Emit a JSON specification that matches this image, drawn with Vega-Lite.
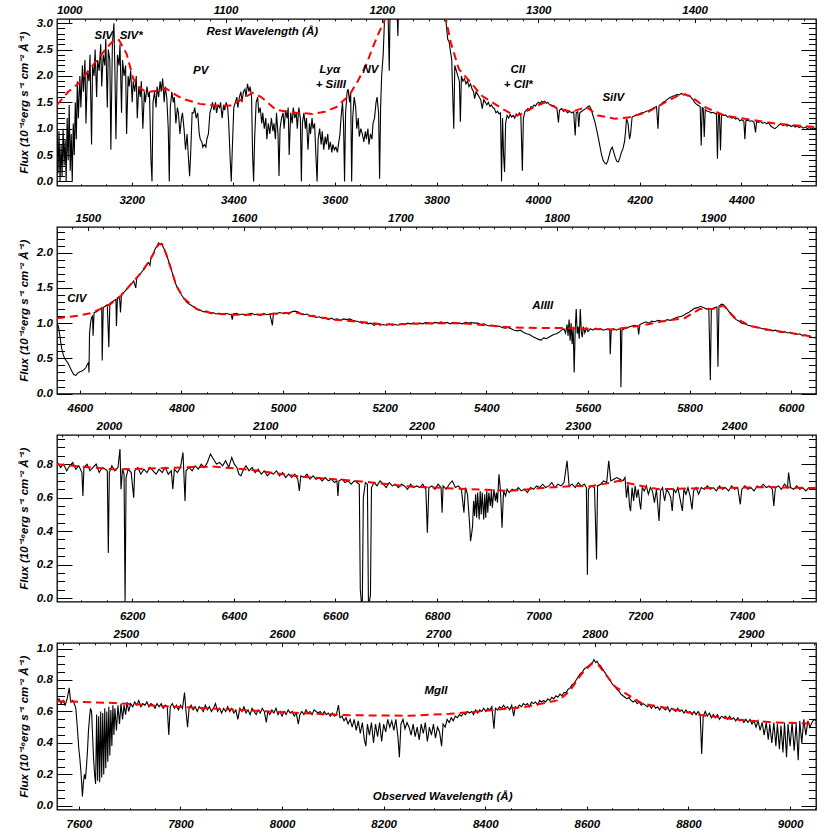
{
"$schema": "https://vega.github.io/schema/vega-lite/v6.json",
"background": "white",
"padding": {"left": 17, "top": 3, "right": 0, "bottom": 0},
"spacing": 41,
"bounds": "flush",
"config": {
 "font": "Liberation Sans",
 "view": {"stroke": "black", "strokeWidth": 1.3},
 "axis": {"domain": false, "grid": false, "labelFont": "Liberation Sans", "labelFontSize": 11.5, "labelFontWeight": "bold", "labelFontStyle": "italic", "labelColor": "black", "tickColor": "black", "tickWidth": 1, "labelFlush": false, "labelOverlap": false, "labelBound": false, "titleFont": "Liberation Sans", "titleFontSize": 11.5, "titleFontWeight": "bold", "titleFontStyle": "italic", "titleColor": "black"}
},
"datasets": {
"s1": [{"w":3053,"f":1.0},{"w":3055,"f":0.15},{"w":3057,"f":0.95},{"w":3059,"f":0.0},{"w":3061,"f":0.7},{"w":3063,"f":0.1},{"w":3065,"f":1.0},{"w":3067,"f":0.3},{"w":3069,"f":0.8},{"w":3071,"f":0.0},{"w":3073,"f":1.2},{"w":3075,"f":0.4},{"w":3077,"f":1.45},{"w":3079,"f":0.2},{"w":3081,"f":0.9},{"w":3083,"f":0.0},{"w":3085,"f":1.1},{"w":3087,"f":0.5},{"w":3089,"f":1.5},{"w":3091,"f":0.8},{"w":3093,"f":1.9},{"w":3095,"f":1.2},{"w":3098,"f":2.0},{"w":3100,"f":1.4},{"w":3103,"f":2.2},{"w":3105,"f":1.7},{"w":3108,"f":2.3},{"w":3110,"f":1.1},{"w":3113,"f":2.1},{"w":3116,"f":1.9},{"w":3118,"f":2.4},{"w":3121,"f":0.7},{"w":3123,"f":2.2},{"w":3126,"f":2.0},{"w":3128,"f":2.5},{"w":3131,"f":1.6},{"w":3133,"f":2.3},{"w":3136,"f":2.1},{"w":3139,"f":2.6},{"w":3141,"f":1.8},{"w":3144,"f":2.4},{"w":3147,"f":2.2},{"w":3149,"f":2.7},{"w":3152,"f":1.4},{"w":3154,"f":2.5},{"w":3157,"f":2.3},{"w":3159,"f":0.6},{"w":3162,"f":2.6},{"w":3165,"f":3.0},{"w":3167,"f":2.1},{"w":3169,"f":0.8},{"w":3172,"f":2.4},{"w":3175,"f":2.2},{"w":3177,"f":2.6},{"w":3180,"f":1.3},{"w":3182,"f":2.3},{"w":3185,"f":2.0},{"w":3188,"f":2.2},{"w":3190,"f":0.9},{"w":3193,"f":2.0},{"w":3195,"f":1.8},{"w":3198,"f":2.1},{"w":3201,"f":1.5},{"w":3203,"f":1.9},{"w":3206,"f":1.7},{"w":3209,"f":2.0},{"w":3211,"f":1.2},{"w":3214,"f":1.8},{"w":3217,"f":1.6},{"w":3219,"f":1.9},{"w":3222,"f":1.0},{"w":3225,"f":1.7},{"w":3227,"f":1.5},{"w":3230,"f":1.8},{"w":3233,"f":1.6},{"w":3235,"f":1.7},{"w":3238,"f":0.4},{"w":3240,"f":0.0},{"w":3242,"f":1.5},{"w":3245,"f":1.7},{"w":3248,"f":1.4},{"w":3250,"f":1.8},{"w":3253,"f":1.6},{"w":3256,"f":1.9},{"w":3258,"f":1.7},{"w":3261,"f":1.95},{"w":3264,"f":1.5},{"w":3266,"f":1.8},{"w":3269,"f":1.6},{"w":3272,"f":1.0},{"w":3274,"f":0.0},{"w":3276,"f":1.4},{"w":3279,"f":1.7},{"w":3282,"f":1.5},{"w":3284,"f":1.6},{"w":3287,"f":1.1},{"w":3290,"f":1.4},{"w":3292,"f":1.3},{"w":3295,"f":0.9},{"w":3298,"f":1.2},{"w":3300,"f":1.3},{"w":3303,"f":1.0},{"w":3306,"f":0.6},{"w":3309,"f":0.9},{"w":3312,"f":0.4},{"w":3314,"f":0.1},{"w":3316,"f":0.5},{"w":3319,"f":1.3},{"w":3322,"f":1.3},{"w":3324,"f":1.4},{"w":3327,"f":1.2},{"w":3330,"f":1.3},{"w":3333,"f":0.9},{"w":3335,"f":0.8},{"w":3338,"f":0.75},{"w":3340,"f":0.65},{"w":3343,"f":0.7},{"w":3346,"f":0.65},{"w":3348,"f":0.8},{"w":3351,"f":0.9},{"w":3354,"f":1.3},{"w":3357,"f":1.4},{"w":3359,"f":1.5},{"w":3362,"f":1.35},{"w":3365,"f":1.5},{"w":3367,"f":1.3},{"w":3370,"f":1.45},{"w":3373,"f":1.4},{"w":3375,"f":1.5},{"w":3378,"f":1.2},{"w":3381,"f":1.45},{"w":3383,"f":1.35},{"w":3386,"f":1.5},{"w":3389,"f":1.4},{"w":3391,"f":1.1},{"w":3394,"f":0.4},{"w":3396,"f":0.0},{"w":3398,"f":0.6},{"w":3401,"f":1.4},{"w":3404,"f":1.5},{"w":3407,"f":1.6},{"w":3409,"f":1.4},{"w":3412,"f":1.6},{"w":3415,"f":1.7},{"w":3417,"f":1.5},{"w":3420,"f":1.7},{"w":3423,"f":1.75},{"w":3425,"f":1.6},{"w":3428,"f":1.85},{"w":3431,"f":1.7},{"w":3433,"f":1.8},{"w":3436,"f":1.6},{"w":3438,"f":0.5},{"w":3440,"f":0.0},{"w":3442,"f":0.8},{"w":3445,"f":1.5},{"w":3448,"f":1.6},{"w":3450,"f":1.3},{"w":3453,"f":1.4},{"w":3456,"f":1.1},{"w":3458,"f":1.3},{"w":3461,"f":1.0},{"w":3464,"f":1.2},{"w":3466,"f":0.8},{"w":3469,"f":1.1},{"w":3472,"f":0.9},{"w":3475,"f":1.2},{"w":3478,"f":0.95},{"w":3480,"f":1.1},{"w":3483,"f":0.8},{"w":3485,"f":1.3},{"w":3488,"f":0.9},{"w":3490,"f":0.1},{"w":3492,"f":1.0},{"w":3495,"f":1.2},{"w":3498,"f":1.3},{"w":3500,"f":1.0},{"w":3503,"f":1.35},{"w":3506,"f":1.2},{"w":3508,"f":1.4},{"w":3510,"f":0.5},{"w":3513,"f":1.3},{"w":3516,"f":1.1},{"w":3518,"f":1.4},{"w":3521,"f":1.2},{"w":3524,"f":1.3},{"w":3526,"f":1.0},{"w":3529,"f":1.4},{"w":3532,"f":1.2},{"w":3534,"f":0.0},{"w":3536,"f":1.1},{"w":3539,"f":1.3},{"w":3542,"f":1.0},{"w":3544,"f":1.2},{"w":3547,"f":0.6},{"w":3550,"f":1.1},{"w":3552,"f":0.9},{"w":3555,"f":1.2},{"w":3557,"f":1.0},{"w":3560,"f":1.1},{"w":3563,"f":0.4},{"w":3565,"f":0.0},{"w":3567,"f":0.8},{"w":3570,"f":1.0},{"w":3573,"f":0.7},{"w":3575,"f":0.95},{"w":3578,"f":0.6},{"w":3581,"f":0.85},{"w":3583,"f":0.7},{"w":3586,"f":0.9},{"w":3588,"f":0.6},{"w":3591,"f":0.75},{"w":3594,"f":0.55},{"w":3596,"f":0.7},{"w":3599,"f":0.6},{"w":3602,"f":0.65},{"w":3605,"f":0.55},{"w":3607,"f":0.7},{"w":3610,"f":0.9},{"w":3612,"f":1.2},{"w":3615,"f":1.5},{"w":3617,"f":1.1},{"w":3619,"f":0.0},{"w":3621,"f":1.3},{"w":3624,"f":1.7},{"w":3626,"f":1.75},{"w":3629,"f":1.5},{"w":3631,"f":1.7},{"w":3633,"f":0.0},{"w":3635,"f":1.2},{"w":3638,"f":1.6},{"w":3641,"f":1.4},{"w":3643,"f":1.0},{"w":3646,"f":1.2},{"w":3648,"f":0.85},{"w":3651,"f":1.0},{"w":3654,"f":0.9},{"w":3657,"f":0.75},{"w":3660,"f":0.95},{"w":3662,"f":0.8},{"w":3665,"f":1.0},{"w":3667,"f":0.7},{"w":3670,"f":0.9},{"w":3673,"f":0.8},{"w":3675,"f":1.1},{"w":3678,"f":1.2},{"w":3681,"f":1.5},{"w":3683,"f":1.6},{"w":3686,"f":1.3},{"w":3688,"f":0.05},{"w":3690,"f":1.4},{"w":3692,"f":2.0},{"w":3695,"f":2.4},{"w":3697,"f":2.9},{"w":3699,"f":3.4},{"w":3702,"f":3.6},{"w":3704,"f":3.5},{"w":3707,"f":2.1},{"w":3709,"f":3.5},{"w":3712,"f":3.8},{"w":3716,"f":4.0},{"w":3720,"f":3.9},{"w":3724,"f":2.76},{"w":3727,"f":4.0},{"w":3735,"f":4.3},{"w":3750,"f":4.6},{"w":3770,"f":4.8},{"w":3790,"f":4.5},{"w":3805,"f":4.0},{"w":3812,"f":3.5},{"w":3816,"f":3.2},{"w":3819,"f":3.0},{"w":3822,"f":2.7},{"w":3825,"f":2.64},{"w":3827,"f":2.5},{"w":3830,"f":2.3},{"w":3832,"f":1.6},{"w":3834,"f":1.0},{"w":3836,"f":2.2},{"w":3839,"f":2.1},{"w":3842,"f":2.0},{"w":3845,"f":1.9},{"w":3847,"f":1.13},{"w":3849,"f":2.0},{"w":3852,"f":1.9},{"w":3855,"f":1.95},{"w":3858,"f":1.85},{"w":3861,"f":1.9},{"w":3864,"f":1.8},{"w":3867,"f":1.85},{"w":3870,"f":1.75},{"w":3873,"f":1.7},{"w":3875,"f":1.57},{"w":3878,"f":1.7},{"w":3881,"f":1.65},{"w":3884,"f":1.6},{"w":3887,"f":1.55},{"w":3890,"f":1.38},{"w":3893,"f":1.55},{"w":3896,"f":1.5},{"w":3899,"f":1.45},{"w":3902,"f":1.5},{"w":3905,"f":1.42},{"w":3908,"f":1.45},{"w":3911,"f":1.4},{"w":3914,"f":1.38},{"w":3917,"f":1.3},{"w":3920,"f":1.33},{"w":3923,"f":1.28},{"w":3926,"f":1.3},{"w":3928,"f":0.0},{"w":3930,"f":1.2},{"w":3932,"f":0.5},{"w":3934,"f":0.18},{"w":3936,"f":1.1},{"w":3939,"f":1.25},{"w":3942,"f":1.2},{"w":3945,"f":1.27},{"w":3948,"f":1.22},{"w":3951,"f":1.25},{"w":3954,"f":1.2},{"w":3957,"f":1.28},{"w":3960,"f":1.24},{"w":3963,"f":1.3},{"w":3966,"f":1.25},{"w":3969,"f":0.2},{"w":3971,"f":1.2},{"w":3974,"f":1.32},{"w":3977,"f":1.35},{"w":3980,"f":1.38},{"w":3983,"f":1.35},{"w":3986,"f":1.42},{"w":3989,"f":1.4},{"w":3992,"f":1.45},{"w":3995,"f":1.43},{"w":3998,"f":1.48},{"w":4001,"f":1.5},{"w":4004,"f":1.47},{"w":4007,"f":1.52},{"w":4010,"f":1.5},{"w":4013,"f":1.52},{"w":4016,"f":1.48},{"w":4019,"f":1.5},{"w":4022,"f":1.46},{"w":4025,"f":1.45},{"w":4028,"f":1.42},{"w":4031,"f":1.44},{"w":4034,"f":1.4},{"w":4037,"f":1.38},{"w":4040,"f":1.12},{"w":4042,"f":1.35},{"w":4046,"f":1.38},{"w":4050,"f":1.33},{"w":4054,"f":1.35},{"w":4058,"f":1.3},{"w":4062,"f":1.33},{"w":4066,"f":1.3},{"w":4070,"f":1.32},{"w":4073,"f":0.87},{"w":4075,"f":1.3},{"w":4078,"f":1.32},{"w":4080,"f":1.03},{"w":4082,"f":1.3},{"w":4086,"f":1.33},{"w":4090,"f":1.36},{"w":4094,"f":1.38},{"w":4098,"f":1.42},{"w":4101,"f":1.43},{"w":4104,"f":1.38},{"w":4108,"f":1.25},{"w":4112,"f":1.12},{"w":4116,"f":0.95},{"w":4119,"f":0.8},{"w":4122,"f":0.65},{"w":4125,"f":0.5},{"w":4128,"f":0.4},{"w":4131,"f":0.35},{"w":4134,"f":0.33},{"w":4137,"f":0.38},{"w":4140,"f":0.5},{"w":4143,"f":0.6},{"w":4146,"f":0.65},{"w":4149,"f":0.55},{"w":4152,"f":0.45},{"w":4155,"f":0.38},{"w":4158,"f":0.37},{"w":4161,"f":0.45},{"w":4164,"f":0.55},{"w":4167,"f":0.62},{"w":4170,"f":0.75},{"w":4172,"f":0.93},{"w":4174,"f":1.19},{"w":4177,"f":1.1},{"w":4180,"f":0.8},{"w":4182,"f":0.9},{"w":4185,"f":1.22},{"w":4189,"f":1.24},{"w":4193,"f":1.26},{"w":4197,"f":1.27},{"w":4201,"f":1.29},{"w":4205,"f":1.3},{"w":4209,"f":1.31},{"w":4213,"f":1.33},{"w":4217,"f":1.34},{"w":4221,"f":1.36},{"w":4225,"f":1.38},{"w":4229,"f":1.4},{"w":4233,"f":1.42},{"w":4236,"f":1.0},{"w":4238,"f":1.43},{"w":4242,"f":1.46},{"w":4246,"f":1.5},{"w":4250,"f":1.52},{"w":4254,"f":1.55},{"w":4258,"f":1.58},{"w":4262,"f":1.6},{"w":4266,"f":1.62},{"w":4270,"f":1.63},{"w":4274,"f":1.65},{"w":4278,"f":1.64},{"w":4282,"f":1.67},{"w":4286,"f":1.64},{"w":4290,"f":1.66},{"w":4294,"f":1.62},{"w":4298,"f":1.63},{"w":4302,"f":1.58},{"w":4305,"f":1.55},{"w":4308,"f":1.5},{"w":4311,"f":1.47},{"w":4314,"f":1.45},{"w":4317,"f":1.43},{"w":4319,"f":1.42},{"w":4321,"f":0.68},{"w":4323,"f":1.4},{"w":4325,"f":1.39},{"w":4327,"f":0.84},{"w":4329,"f":1.36},{"w":4333,"f":1.33},{"w":4337,"f":1.32},{"w":4341,"f":1.3},{"w":4345,"f":1.31},{"w":4349,"f":1.28},{"w":4351,"f":1.29},{"w":4353,"f":0.43},{"w":4355,"f":1.28},{"w":4357,"f":1.27},{"w":4359,"f":0.59},{"w":4361,"f":1.26},{"w":4365,"f":1.25},{"w":4369,"f":1.26},{"w":4373,"f":1.22},{"w":4377,"f":1.23},{"w":4381,"f":1.2},{"w":4385,"f":1.21},{"w":4389,"f":1.18},{"w":4393,"f":1.2},{"w":4397,"f":1.15},{"w":4401,"f":1.17},{"w":4405,"f":1.14},{"w":4407,"f":0.8},{"w":4409,"f":1.15},{"w":4413,"f":1.16},{"w":4417,"f":1.14},{"w":4421,"f":1.15},{"w":4425,"f":1.12},{"w":4428,"f":0.93},{"w":4430,"f":1.13},{"w":4434,"f":1.12},{"w":4438,"f":1.14},{"w":4442,"f":1.1},{"w":4446,"f":1.12},{"w":4450,"f":1.09},{"w":4454,"f":1.11},{"w":4458,"f":1.05},{"w":4462,"f":1.02},{"w":4466,"f":1.0},{"w":4470,"f":1.03},{"w":4474,"f":1.07},{"w":4478,"f":1.09},{"w":4482,"f":1.06},{"w":4486,"f":1.08},{"w":4490,"f":1.05},{"w":4494,"f":1.07},{"w":4498,"f":1.04},{"w":4502,"f":1.06},{"w":4506,"f":1.03},{"w":4510,"f":1.05},{"w":4514,"f":1.02},{"w":4518,"f":1.04},{"w":4522,"f":1.01},{"w":4526,"f":1.03},{"w":4530,"f":1.0},{"w":4534,"f":1.02},{"w":4538,"f":0.99},{"w":4542,"f":1.01},{"w":4547,"f":1.0}],
"c1": [{"w":3053,"f":1.45},{"w":3075,"f":1.7},{"w":3098,"f":1.88},{"w":3115,"f":2.1},{"w":3131,"f":2.29},{"w":3150,"f":2.52},{"w":3167,"f":2.7},{"w":3175,"f":2.68},{"w":3190,"f":2.42},{"w":3203,"f":1.95},{"w":3215,"f":1.78},{"w":3229,"f":1.69},{"w":3250,"f":1.72},{"w":3268,"f":1.76},{"w":3285,"f":1.65},{"w":3300,"f":1.57},{"w":3334,"f":1.47},{"w":3370,"f":1.43},{"w":3398,"f":1.44},{"w":3420,"f":1.58},{"w":3438,"f":1.68},{"w":3455,"f":1.6},{"w":3484,"f":1.36},{"w":3510,"f":1.31},{"w":3556,"f":1.28},{"w":3580,"f":1.32},{"w":3603,"f":1.41},{"w":3628,"f":1.63},{"w":3645,"f":1.9},{"w":3661,"f":2.2},{"w":3675,"f":2.55},{"w":3687,"f":2.83},{"w":3700,"f":3.1},{"w":3720,"f":3.6},{"w":3760,"f":4.0},{"w":3800,"f":3.6},{"w":3818,"f":3.1},{"w":3828,"f":2.64},{"w":3844,"f":2.13},{"w":3864,"f":1.91},{"w":3890,"f":1.62},{"w":3929,"f":1.38},{"w":3955,"f":1.24},{"w":3967,"f":1.28},{"w":3990,"f":1.4},{"w":4014,"f":1.5},{"w":4040,"f":1.38},{"w":4066,"f":1.32},{"w":4095,"f":1.41},{"w":4118,"f":1.25},{"w":4151,"f":1.19},{"w":4177,"f":1.21},{"w":4217,"f":1.32},{"w":4250,"f":1.5},{"w":4282,"f":1.66},{"w":4300,"f":1.62},{"w":4328,"f":1.41},{"w":4367,"f":1.25},{"w":4426,"f":1.16},{"w":4472,"f":1.09},{"w":4547,"f":1.03}],
"t1": [{"w":3145,"f":2.75,"t":"SIV"},{"w":3199,"f":2.75,"t":"SIV*"},{"w":3457,"f":2.83,"t":"Rest Wavelength (Å)"},{"w":3336,"f":2.09,"t":"PV"},{"w":3590,"f":2.12,"t":"Lyα"},{"w":3592,"f":1.835,"t":"+ SiIII"},{"w":3670,"f":2.12,"t":"NV"},{"w":3960,"f":2.12,"t":"CII"},{"w":3961,"f":1.835,"t":"+ CII*"},{"w":4148,"f":1.585,"t":"SiIV"}],
"s2": [{"w":4555,"f":1.0},{"w":4558,"f":0.95},{"w":4561,"f":0.8},{"w":4564,"f":0.65},{"w":4567,"f":0.56},{"w":4570,"f":0.5},{"w":4573,"f":0.47},{"w":4576,"f":0.44},{"w":4580,"f":0.38},{"w":4584,"f":0.32},{"w":4588,"f":0.27},{"w":4592,"f":0.26},{"w":4596,"f":0.29},{"w":4600,"f":0.31},{"w":4604,"f":0.32},{"w":4608,"f":0.34},{"w":4612,"f":0.37},{"w":4615,"f":0.42},{"w":4617,"f":0.44},{"w":4618,"f":0.3},{"w":4619,"f":0.85},{"w":4621,"f":1.0},{"w":4623,"f":1.08},{"w":4625,"f":1.1},{"w":4626,"f":0.82},{"w":4628,"f":1.15},{"w":4632,"f":1.16},{"w":4636,"f":1.18},{"w":4640,"f":1.2},{"w":4643,"f":1.22},{"w":4644,"f":0.47},{"w":4646,"f":1.22},{"w":4650,"f":1.24},{"w":4654,"f":1.26},{"w":4657,"f":0.66},{"w":4659,"f":1.28},{"w":4663,"f":1.3},{"w":4667,"f":1.32},{"w":4671,"f":1.34},{"w":4672,"f":0.96},{"w":4674,"f":1.36},{"w":4678,"f":1.38},{"w":4680,"f":1.15},{"w":4682,"f":1.41},{"w":4687,"f":1.44},{"w":4692,"f":1.48},{"w":4697,"f":1.52},{"w":4702,"f":1.56},{"w":4706,"f":1.6},{"w":4710,"f":1.5},{"w":4712,"f":1.64},{"w":4717,"f":1.68},{"w":4722,"f":1.73},{"w":4727,"f":1.77},{"w":4731,"f":1.82},{"w":4735,"f":1.86},{"w":4738,"f":1.82},{"w":4740,"f":1.93},{"w":4744,"f":1.98},{"w":4748,"f":2.05},{"w":4752,"f":2.1},{"w":4755,"f":2.14},{"w":4758,"f":2.12},{"w":4761,"f":2.13},{"w":4764,"f":2.08},{"w":4768,"f":2.02},{"w":4772,"f":1.94},{"w":4776,"f":1.85},{"w":4780,"f":1.76},{"w":4784,"f":1.66},{"w":4788,"f":1.57},{"w":4792,"f":1.5},{"w":4796,"f":1.45},{"w":4800,"f":1.4},{"w":4805,"f":1.35},{"w":4810,"f":1.3},{"w":4815,"f":1.27},{"w":4820,"f":1.25},{"w":4826,"f":1.22},{"w":4832,"f":1.19},{"w":4838,"f":1.18},{"w":4844,"f":1.16},{"w":4850,"f":1.17},{"w":4856,"f":1.14},{"w":4862,"f":1.15},{"w":4868,"f":1.13},{"w":4874,"f":1.14},{"w":4880,"f":1.12},{"w":4886,"f":1.14},{"w":4892,"f":1.13},{"w":4898,"f":1.12},{"w":4900,"f":1.05},{"w":4902,"f":1.13},{"w":4908,"f":1.14},{"w":4914,"f":1.12},{"w":4920,"f":1.13},{"w":4926,"f":1.11},{"w":4932,"f":1.13},{"w":4938,"f":1.14},{"w":4944,"f":1.12},{"w":4950,"f":1.13},{"w":4956,"f":1.11},{"w":4962,"f":1.14},{"w":4968,"f":1.12},{"w":4974,"f":1.13},{"w":4979,"f":0.97},{"w":4981,"f":1.14},{"w":4987,"f":1.13},{"w":4993,"f":1.15},{"w":4999,"f":1.14},{"w":5005,"f":1.15},{"w":5011,"f":1.13},{"w":5017,"f":1.16},{"w":5023,"f":1.17},{"w":5029,"f":1.16},{"w":5035,"f":1.13},{"w":5041,"f":1.12},{"w":5047,"f":1.13},{"w":5053,"f":1.1},{"w":5059,"f":1.11},{"w":5065,"f":1.08},{"w":5071,"f":1.09},{"w":5077,"f":1.07},{"w":5083,"f":1.08},{"w":5089,"f":1.05},{"w":5095,"f":1.07},{"w":5101,"f":1.05},{"w":5107,"f":1.06},{"w":5113,"f":1.04},{"w":5119,"f":1.06},{"w":5125,"f":1.05},{"w":5131,"f":1.06},{"w":5137,"f":1.04},{"w":5143,"f":1.03},{"w":5149,"f":1.02},{"w":5155,"f":1.0},{"w":5161,"f":1.01},{"w":5167,"f":0.99},{"w":5173,"f":1.0},{"w":5179,"f":0.97},{"w":5185,"f":0.99},{"w":5191,"f":0.97},{"w":5197,"f":0.98},{"w":5203,"f":0.97},{"w":5209,"f":0.99},{"w":5215,"f":0.97},{"w":5221,"f":0.98},{"w":5227,"f":0.97},{"w":5233,"f":0.99},{"w":5239,"f":0.98},{"w":5245,"f":1.0},{"w":5251,"f":0.99},{"w":5257,"f":1.0},{"w":5263,"f":0.99},{"w":5269,"f":1.0},{"w":5275,"f":0.99},{"w":5281,"f":1.01},{"w":5287,"f":1.0},{"w":5293,"f":0.99},{"w":5299,"f":1.01},{"w":5305,"f":1.0},{"w":5311,"f":1.02},{"w":5317,"f":1.0},{"w":5323,"f":1.01},{"w":5329,"f":0.99},{"w":5335,"f":1.01},{"w":5341,"f":1.0},{"w":5347,"f":1.0},{"w":5353,"f":0.99},{"w":5359,"f":1.01},{"w":5365,"f":1.0},{"w":5371,"f":1.01},{"w":5377,"f":1.0},{"w":5383,"f":1.0},{"w":5389,"f":0.98},{"w":5395,"f":0.99},{"w":5401,"f":0.97},{"w":5407,"f":0.96},{"w":5413,"f":0.97},{"w":5419,"f":0.95},{"w":5425,"f":0.96},{"w":5431,"f":0.94},{"w":5437,"f":0.93},{"w":5443,"f":0.94},{"w":5449,"f":0.92},{"w":5455,"f":0.9},{"w":5461,"f":0.89},{"w":5467,"f":0.9},{"w":5473,"f":0.87},{"w":5479,"f":0.85},{"w":5485,"f":0.84},{"w":5491,"f":0.81},{"w":5497,"f":0.79},{"w":5503,"f":0.77},{"w":5508,"f":0.76},{"w":5513,"f":0.79},{"w":5518,"f":0.78},{"w":5523,"f":0.8},{"w":5528,"f":0.82},{"w":5533,"f":0.84},{"w":5538,"f":0.85},{"w":5543,"f":0.87},{"w":5548,"f":0.9},{"w":5553,"f":0.92},{"w":5556,"f":0.86},{"w":5559,"f":0.98},{"w":5561,"f":0.82},{"w":5563,"f":1.05},{"w":5565,"f":0.75},{"w":5567,"f":1.0},{"w":5569,"f":0.7},{"w":5571,"f":0.95},{"w":5573,"f":0.3},{"w":5575,"f":0.9},{"w":5577,"f":1.2},{"w":5579,"f":0.85},{"w":5581,"f":0.95},{"w":5583,"f":0.78},{"w":5585,"f":1.2},{"w":5587,"f":0.88},{"w":5589,"f":0.8},{"w":5591,"f":0.95},{"w":5594,"f":0.86},{"w":5597,"f":0.93},{"w":5600,"f":0.88},{"w":5605,"f":0.92},{"w":5610,"f":0.9},{"w":5615,"f":0.93},{"w":5620,"f":0.91},{"w":5625,"f":0.92},{"w":5630,"f":0.9},{"w":5635,"f":0.91},{"w":5640,"f":0.92},{"w":5643,"f":0.9},{"w":5644,"f":0.56},{"w":5646,"f":0.91},{"w":5651,"f":0.92},{"w":5656,"f":0.9},{"w":5661,"f":0.92},{"w":5664,"f":0.91},{"w":5665,"f":0.09},{"w":5667,"f":0.9},{"w":5672,"f":0.92},{"w":5677,"f":0.93},{"w":5682,"f":0.95},{"w":5687,"f":0.96},{"w":5692,"f":0.97},{"w":5698,"f":0.96},{"w":5700,"f":0.84},{"w":5702,"f":0.98},{"w":5708,"f":1.0},{"w":5714,"f":1.02},{"w":5720,"f":1.0},{"w":5726,"f":1.03},{"w":5732,"f":1.02},{"w":5738,"f":1.04},{"w":5744,"f":1.03},{"w":5750,"f":1.02},{"w":5756,"f":1.05},{"w":5762,"f":1.04},{"w":5768,"f":1.06},{"w":5774,"f":1.08},{"w":5780,"f":1.09},{"w":5786,"f":1.1},{"w":5792,"f":1.13},{"w":5798,"f":1.15},{"w":5804,"f":1.18},{"w":5810,"f":1.21},{"w":5816,"f":1.22},{"w":5822,"f":1.24},{"w":5828,"f":1.22},{"w":5834,"f":1.2},{"w":5838,"f":1.21},{"w":5841,"f":0.19},{"w":5843,"f":1.2},{"w":5849,"f":1.22},{"w":5854,"f":1.23},{"w":5856,"f":0.38},{"w":5858,"f":1.24},{"w":5863,"f":1.27},{"w":5867,"f":1.26},{"w":5872,"f":1.22},{"w":5877,"f":1.17},{"w":5882,"f":1.12},{"w":5887,"f":1.08},{"w":5892,"f":1.05},{"w":5897,"f":1.03},{"w":5903,"f":1.0},{"w":5909,"f":0.99},{"w":5915,"f":0.97},{"w":5921,"f":0.96},{"w":5927,"f":0.95},{"w":5933,"f":0.94},{"w":5939,"f":0.93},{"w":5945,"f":0.92},{"w":5951,"f":0.9},{"w":5957,"f":0.91},{"w":5963,"f":0.89},{"w":5969,"f":0.9},{"w":5975,"f":0.88},{"w":5981,"f":0.87},{"w":5987,"f":0.88},{"w":5993,"f":0.86},{"w":5999,"f":0.87},{"w":6005,"f":0.85},{"w":6011,"f":0.84},{"w":6017,"f":0.85},{"w":6023,"f":0.82},{"w":6029,"f":0.83},{"w":6035,"f":0.81},{"w":6041,"f":0.8},{"w":6049,"f":0.79}],
"c2": [{"w":4555,"f":1.07},{"w":4580,"f":1.09},{"w":4600,"f":1.11},{"w":4620,"f":1.14},{"w":4640,"f":1.2},{"w":4660,"f":1.27},{"w":4680,"f":1.38},{"w":4700,"f":1.55},{"w":4720,"f":1.71},{"w":4740,"f":1.92},{"w":4755,"f":2.12},{"w":4762,"f":2.12},{"w":4770,"f":1.98},{"w":4780,"f":1.76},{"w":4790,"f":1.53},{"w":4805,"f":1.35},{"w":4830,"f":1.2},{"w":4860,"f":1.14},{"w":4900,"f":1.12},{"w":4950,"f":1.12},{"w":5000,"f":1.14},{"w":5025,"f":1.15},{"w":5050,"f":1.11},{"w":5100,"f":1.05},{"w":5150,"f":1.02},{"w":5200,"f":0.98},{"w":5250,"f":0.99},{"w":5300,"f":1.0},{"w":5350,"f":1.0},{"w":5400,"f":0.97},{"w":5450,"f":0.94},{"w":5500,"f":0.93},{"w":5550,"f":0.93},{"w":5600,"f":0.92},{"w":5650,"f":0.91},{"w":5700,"f":0.96},{"w":5750,"f":1.03},{"w":5790,"f":1.07},{"w":5820,"f":1.2},{"w":5845,"f":1.2},{"w":5867,"f":1.25},{"w":5890,"f":1.07},{"w":5920,"f":0.96},{"w":5960,"f":0.9},{"w":6000,"f":0.86},{"w":6049,"f":0.8}],
"t2": [{"w":4594,"f":1.35,"t":"CIV"},{"w":5511,"f":1.24,"t":"AlIII"}],
"s3": [{"w":6053,"f":0.81},{"w":6059,"f":0.78},{"w":6065,"f":0.8},{"w":6071,"f":0.76},{"w":6077,"f":0.79},{"w":6083,"f":0.81},{"w":6089,"f":0.77},{"w":6095,"f":0.79},{"w":6101,"f":0.75},{"w":6103,"f":0.61},{"w":6105,"f":0.78},{"w":6111,"f":0.8},{"w":6117,"f":0.76},{"w":6123,"f":0.78},{"w":6129,"f":0.8},{"w":6135,"f":0.75},{"w":6141,"f":0.78},{"w":6147,"f":0.77},{"w":6151,"f":0.76},{"w":6153,"f":0.27},{"w":6155,"f":0.75},{"w":6160,"f":0.79},{"w":6166,"f":0.76},{"w":6172,"f":0.78},{"w":6176,"f":0.89},{"w":6178,"f":0.65},{"w":6181,"f":0.77},{"w":6184,"f":0.74},{"w":6186,"f":-0.02},{"w":6188,"f":0.72},{"w":6192,"f":0.77},{"w":6198,"f":0.75},{"w":6203,"f":0.6},{"w":6205,"f":0.76},{"w":6211,"f":0.78},{"w":6217,"f":0.74},{"w":6223,"f":0.77},{"w":6229,"f":0.75},{"w":6235,"f":0.78},{"w":6241,"f":0.76},{"w":6247,"f":0.74},{"w":6253,"f":0.77},{"w":6259,"f":0.75},{"w":6265,"f":0.78},{"w":6271,"f":0.74},{"w":6277,"f":0.76},{"w":6280,"f":0.65},{"w":6283,"f":0.77},{"w":6289,"f":0.75},{"w":6295,"f":0.78},{"w":6300,"f":0.87},{"w":6304,"f":0.58},{"w":6306,"f":0.76},{"w":6312,"f":0.78},{"w":6318,"f":0.76},{"w":6324,"f":0.79},{"w":6330,"f":0.77},{"w":6336,"f":0.8},{"w":6342,"f":0.78},{"w":6348,"f":0.81},{"w":6354,"f":0.86},{"w":6358,"f":0.84},{"w":6362,"f":0.82},{"w":6366,"f":0.8},{"w":6372,"f":0.81},{"w":6378,"f":0.79},{"w":6384,"f":0.82},{"w":6390,"f":0.78},{"w":6396,"f":0.84},{"w":6401,"f":0.8},{"w":6406,"f":0.78},{"w":6410,"f":0.74},{"w":6414,"f":0.73},{"w":6418,"f":0.76},{"w":6424,"f":0.79},{"w":6430,"f":0.76},{"w":6436,"f":0.78},{"w":6442,"f":0.75},{"w":6448,"f":0.77},{"w":6454,"f":0.74},{"w":6460,"f":0.76},{"w":6466,"f":0.73},{"w":6472,"f":0.75},{"w":6478,"f":0.74},{"w":6484,"f":0.76},{"w":6490,"f":0.73},{"w":6496,"f":0.75},{"w":6502,"f":0.72},{"w":6508,"f":0.74},{"w":6514,"f":0.72},{"w":6520,"f":0.74},{"w":6526,"f":0.71},{"w":6529,"f":0.64},{"w":6532,"f":0.73},{"w":6538,"f":0.72},{"w":6544,"f":0.74},{"w":6550,"f":0.71},{"w":6556,"f":0.73},{"w":6562,"f":0.71},{"w":6568,"f":0.72},{"w":6574,"f":0.7},{"w":6580,"f":0.72},{"w":6586,"f":0.7},{"w":6592,"f":0.71},{"w":6598,"f":0.69},{"w":6603,"f":0.7},{"w":6605,"f":0.61},{"w":6607,"f":0.7},{"w":6613,"f":0.71},{"w":6619,"f":0.69},{"w":6625,"f":0.7},{"w":6631,"f":0.68},{"w":6637,"f":0.7},{"w":6643,"f":0.69},{"w":6647,"f":0.68},{"w":6649,"f":0.05},{"w":6651,"f":-0.02},{"w":6653,"f":-0.02},{"w":6655,"f":0.6},{"w":6659,"f":0.69},{"w":6663,"f":0.68},{"w":6665,"f":-0.02},{"w":6667,"f":-0.02},{"w":6669,"f":0.02},{"w":6671,"f":0.66},{"w":6676,"f":0.69},{"w":6682,"f":0.67},{"w":6688,"f":0.7},{"w":6694,"f":0.68},{"w":6700,"f":0.66},{"w":6706,"f":0.69},{"w":6712,"f":0.67},{"w":6718,"f":0.68},{"w":6724,"f":0.66},{"w":6730,"f":0.68},{"w":6736,"f":0.67},{"w":6742,"f":0.65},{"w":6748,"f":0.68},{"w":6754,"f":0.66},{"w":6760,"f":0.67},{"w":6766,"f":0.66},{"w":6772,"f":0.68},{"w":6778,"f":0.65},{"w":6781,"f":0.39},{"w":6784,"f":0.66},{"w":6790,"f":0.67},{"w":6796,"f":0.65},{"w":6802,"f":0.68},{"w":6808,"f":0.66},{"w":6810,"f":0.51},{"w":6812,"f":0.67},{"w":6818,"f":0.65},{"w":6824,"f":0.68},{"w":6830,"f":0.7},{"w":6836,"f":0.66},{"w":6842,"f":0.67},{"w":6848,"f":0.65},{"w":6853,"f":0.51},{"w":6856,"f":0.66},{"w":6860,"f":0.62},{"w":6864,"f":0.45},{"w":6866,"f":0.34},{"w":6868,"f":0.38},{"w":6870,"f":0.43},{"w":6872,"f":0.58},{"w":6874,"f":0.49},{"w":6876,"f":0.62},{"w":6878,"f":0.48},{"w":6880,"f":0.63},{"w":6883,"f":0.47},{"w":6885,"f":0.64},{"w":6887,"f":0.5},{"w":6889,"f":0.63},{"w":6892,"f":0.47},{"w":6894,"f":0.62},{"w":6896,"f":0.48},{"w":6898,"f":0.64},{"w":6900,"f":0.51},{"w":6902,"f":0.63},{"w":6905,"f":0.55},{"w":6907,"f":0.64},{"w":6909,"f":0.54},{"w":6912,"f":0.65},{"w":6915,"f":0.58},{"w":6917,"f":0.63},{"w":6919,"f":0.57},{"w":6922,"f":0.74},{"w":6925,"f":0.64},{"w":6928,"f":0.42},{"w":6931,"f":0.64},{"w":6935,"f":0.61},{"w":6938,"f":0.65},{"w":6942,"f":0.63},{"w":6948,"f":0.65},{"w":6954,"f":0.64},{"w":6960,"f":0.66},{"w":6966,"f":0.64},{"w":6972,"f":0.65},{"w":6978,"f":0.63},{"w":6984,"f":0.66},{"w":6990,"f":0.65},{"w":6996,"f":0.67},{"w":7002,"f":0.66},{"w":7008,"f":0.68},{"w":7014,"f":0.66},{"w":7020,"f":0.67},{"w":7026,"f":0.69},{"w":7032,"f":0.66},{"w":7038,"f":0.68},{"w":7044,"f":0.67},{"w":7050,"f":0.69},{"w":7056,"f":0.82},{"w":7060,"f":0.67},{"w":7066,"f":0.68},{"w":7072,"f":0.66},{"w":7078,"f":0.69},{"w":7084,"f":0.67},{"w":7090,"f":0.68},{"w":7094,"f":0.66},{"w":7096,"f":0.14},{"w":7098,"f":0.65},{"w":7104,"f":0.67},{"w":7110,"f":0.66},{"w":7114,"f":0.23},{"w":7116,"f":0.67},{"w":7122,"f":0.68},{"w":7128,"f":0.7},{"w":7134,"f":0.69},{"w":7138,"f":0.82},{"w":7142,"f":0.7},{"w":7148,"f":0.71},{"w":7154,"f":0.72},{"w":7160,"f":0.71},{"w":7166,"f":0.7},{"w":7170,"f":0.72},{"w":7173,"f":0.6},{"w":7176,"f":0.68},{"w":7179,"f":0.55},{"w":7181,"f":0.52},{"w":7184,"f":0.66},{"w":7187,"f":0.58},{"w":7190,"f":0.67},{"w":7193,"f":0.6},{"w":7196,"f":0.65},{"w":7199,"f":0.57},{"w":7201,"f":0.53},{"w":7204,"f":0.66},{"w":7208,"f":0.64},{"w":7212,"f":0.67},{"w":7216,"f":0.62},{"w":7220,"f":0.66},{"w":7224,"f":0.64},{"w":7228,"f":0.57},{"w":7232,"f":0.65},{"w":7237,"f":0.46},{"w":7240,"f":0.64},{"w":7244,"f":0.66},{"w":7248,"f":0.58},{"w":7252,"f":0.65},{"w":7256,"f":0.63},{"w":7260,"f":0.6},{"w":7263,"f":0.52},{"w":7266,"f":0.65},{"w":7270,"f":0.63},{"w":7274,"f":0.66},{"w":7278,"f":0.6},{"w":7283,"f":0.52},{"w":7286,"f":0.65},{"w":7290,"f":0.62},{"w":7294,"f":0.66},{"w":7298,"f":0.61},{"w":7302,"f":0.53},{"w":7305,"f":0.64},{"w":7310,"f":0.66},{"w":7315,"f":0.62},{"w":7320,"f":0.66},{"w":7326,"f":0.65},{"w":7332,"f":0.67},{"w":7338,"f":0.65},{"w":7344,"f":0.66},{"w":7350,"f":0.64},{"w":7356,"f":0.67},{"w":7362,"f":0.65},{"w":7368,"f":0.66},{"w":7374,"f":0.64},{"w":7380,"f":0.67},{"w":7386,"f":0.65},{"w":7392,"f":0.66},{"w":7397,"f":0.56},{"w":7400,"f":0.65},{"w":7406,"f":0.67},{"w":7412,"f":0.65},{"w":7418,"f":0.66},{"w":7424,"f":0.64},{"w":7430,"f":0.67},{"w":7436,"f":0.66},{"w":7442,"f":0.68},{"w":7448,"f":0.66},{"w":7454,"f":0.67},{"w":7460,"f":0.65},{"w":7463,"f":0.55},{"w":7466,"f":0.66},{"w":7472,"f":0.67},{"w":7478,"f":0.65},{"w":7484,"f":0.68},{"w":7490,"f":0.66},{"w":7492,"f":0.75},{"w":7496,"f":0.66},{"w":7502,"f":0.65},{"w":7508,"f":0.67},{"w":7514,"f":0.65},{"w":7520,"f":0.66},{"w":7526,"f":0.64},{"w":7532,"f":0.66},{"w":7538,"f":0.65},{"w":7546,"f":0.65}],
"c3": [{"w":6052,"f":0.8},{"w":6100,"f":0.785},{"w":6168,"f":0.768},{"w":6250,"f":0.775},{"w":6358,"f":0.786},{"w":6433,"f":0.766},{"w":6531,"f":0.726},{"w":6651,"f":0.697},{"w":6745,"f":0.667},{"w":6830,"f":0.655},{"w":6896,"f":0.647},{"w":6942,"f":0.64},{"w":7007,"f":0.657},{"w":7072,"f":0.67},{"w":7099,"f":0.667},{"w":7135,"f":0.685},{"w":7158,"f":0.7},{"w":7191,"f":0.677},{"w":7237,"f":0.65},{"w":7300,"f":0.655},{"w":7400,"f":0.66},{"w":7450,"f":0.663},{"w":7546,"f":0.657}],
"s4": [{"w":7557,"f":0.66},{"w":7561,"f":0.68},{"w":7565,"f":0.65},{"w":7569,"f":0.67},{"w":7573,"f":0.64},{"w":7577,"f":0.68},{"w":7581,"f":0.75},{"w":7584,"f":0.66},{"w":7588,"f":0.67},{"w":7591,"f":0.65},{"w":7594,"f":0.62},{"w":7597,"f":0.5},{"w":7600,"f":0.36},{"w":7602,"f":0.3},{"w":7604,"f":0.22},{"w":7606,"f":0.12},{"w":7607,"f":0.06},{"w":7609,"f":0.15},{"w":7611,"f":0.2},{"w":7613,"f":0.17},{"w":7615,"f":0.25},{"w":7617,"f":0.35},{"w":7619,"f":0.48},{"w":7621,"f":0.56},{"w":7623,"f":0.62},{"w":7625,"f":0.6},{"w":7627,"f":0.45},{"w":7629,"f":0.3},{"w":7631,"f":0.2},{"w":7633,"f":0.14},{"w":7635,"f":0.58},{"w":7637,"f":0.16},{"w":7639,"f":0.57},{"w":7641,"f":0.15},{"w":7643,"f":0.6},{"w":7645,"f":0.18},{"w":7647,"f":0.59},{"w":7649,"f":0.2},{"w":7651,"f":0.62},{"w":7653,"f":0.24},{"w":7655,"f":0.6},{"w":7657,"f":0.28},{"w":7659,"f":0.63},{"w":7661,"f":0.32},{"w":7663,"f":0.61},{"w":7665,"f":0.38},{"w":7667,"f":0.64},{"w":7669,"f":0.45},{"w":7671,"f":0.62},{"w":7674,"f":0.48},{"w":7677,"f":0.64},{"w":7680,"f":0.52},{"w":7683,"f":0.65},{"w":7686,"f":0.55},{"w":7689,"f":0.64},{"w":7692,"f":0.58},{"w":7695,"f":0.66},{"w":7698,"f":0.6},{"w":7702,"f":0.65},{"w":7706,"f":0.63},{"w":7710,"f":0.66},{"w":7714,"f":0.64},{"w":7718,"f":0.67},{"w":7722,"f":0.63},{"w":7726,"f":0.65},{"w":7730,"f":0.64},{"w":7734,"f":0.66},{"w":7738,"f":0.63},{"w":7742,"f":0.65},{"w":7746,"f":0.64},{"w":7750,"f":0.62},{"w":7754,"f":0.65},{"w":7758,"f":0.63},{"w":7762,"f":0.65},{"w":7766,"f":0.62},{"w":7770,"f":0.64},{"w":7774,"f":0.63},{"w":7777,"f":0.45},{"w":7780,"f":0.63},{"w":7784,"f":0.65},{"w":7788,"f":0.62},{"w":7792,"f":0.64},{"w":7796,"f":0.61},{"w":7800,"f":0.64},{"w":7804,"f":0.62},{"w":7808,"f":0.72},{"w":7811,"f":0.6},{"w":7814,"f":0.5},{"w":7817,"f":0.62},{"w":7821,"f":0.64},{"w":7825,"f":0.61},{"w":7829,"f":0.63},{"w":7833,"f":0.6},{"w":7837,"f":0.63},{"w":7841,"f":0.62},{"w":7845,"f":0.6},{"w":7849,"f":0.64},{"w":7853,"f":0.61},{"w":7857,"f":0.63},{"w":7861,"f":0.6},{"w":7865,"f":0.62},{"w":7869,"f":0.65},{"w":7873,"f":0.6},{"w":7877,"f":0.62},{"w":7881,"f":0.59},{"w":7885,"f":0.62},{"w":7889,"f":0.6},{"w":7893,"f":0.63},{"w":7897,"f":0.6},{"w":7901,"f":0.62},{"w":7905,"f":0.59},{"w":7909,"f":0.61},{"w":7913,"f":0.55},{"w":7917,"f":0.62},{"w":7921,"f":0.6},{"w":7925,"f":0.63},{"w":7929,"f":0.59},{"w":7933,"f":0.61},{"w":7937,"f":0.58},{"w":7941,"f":0.62},{"w":7945,"f":0.6},{"w":7949,"f":0.58},{"w":7953,"f":0.61},{"w":7957,"f":0.59},{"w":7961,"f":0.62},{"w":7965,"f":0.6},{"w":7969,"f":0.53},{"w":7972,"f":0.6},{"w":7976,"f":0.58},{"w":7980,"f":0.61},{"w":7984,"f":0.59},{"w":7988,"f":0.62},{"w":7992,"f":0.58},{"w":7996,"f":0.6},{"w":8000,"f":0.57},{"w":8004,"f":0.6},{"w":8008,"f":0.58},{"w":8012,"f":0.61},{"w":8016,"f":0.59},{"w":8020,"f":0.6},{"w":8024,"f":0.57},{"w":8028,"f":0.59},{"w":8032,"f":0.52},{"w":8035,"f":0.58},{"w":8039,"f":0.6},{"w":8043,"f":0.58},{"w":8047,"f":0.61},{"w":8051,"f":0.59},{"w":8055,"f":0.6},{"w":8059,"f":0.58},{"w":8063,"f":0.61},{"w":8067,"f":0.6},{"w":8071,"f":0.59},{"w":8075,"f":0.6},{"w":8079,"f":0.58},{"w":8083,"f":0.6},{"w":8087,"f":0.58},{"w":8091,"f":0.59},{"w":8095,"f":0.57},{"w":8099,"f":0.59},{"w":8103,"f":0.57},{"w":8107,"f":0.58},{"w":8111,"f":0.64},{"w":8114,"f":0.56},{"w":8118,"f":0.57},{"w":8122,"f":0.54},{"w":8126,"f":0.56},{"w":8130,"f":0.52},{"w":8134,"f":0.55},{"w":8138,"f":0.5},{"w":8142,"f":0.55},{"w":8146,"f":0.48},{"w":8150,"f":0.54},{"w":8154,"f":0.46},{"w":8158,"f":0.53},{"w":8162,"f":0.42},{"w":8165,"f":0.38},{"w":8168,"f":0.52},{"w":8172,"f":0.45},{"w":8176,"f":0.53},{"w":8180,"f":0.4},{"w":8184,"f":0.52},{"w":8188,"f":0.44},{"w":8192,"f":0.53},{"w":8196,"f":0.41},{"w":8200,"f":0.52},{"w":8204,"f":0.47},{"w":8208,"f":0.55},{"w":8212,"f":0.5},{"w":8216,"f":0.54},{"w":8220,"f":0.48},{"w":8224,"f":0.55},{"w":8228,"f":0.44},{"w":8231,"f":0.31},{"w":8234,"f":0.52},{"w":8238,"f":0.55},{"w":8242,"f":0.49},{"w":8246,"f":0.53},{"w":8250,"f":0.5},{"w":8254,"f":0.45},{"w":8258,"f":0.52},{"w":8262,"f":0.44},{"w":8266,"f":0.5},{"w":8270,"f":0.42},{"w":8274,"f":0.52},{"w":8278,"f":0.46},{"w":8282,"f":0.53},{"w":8286,"f":0.41},{"w":8290,"f":0.5},{"w":8294,"f":0.45},{"w":8298,"f":0.52},{"w":8302,"f":0.43},{"w":8306,"f":0.5},{"w":8310,"f":0.47},{"w":8314,"f":0.38},{"w":8317,"f":0.52},{"w":8321,"f":0.5},{"w":8325,"f":0.55},{"w":8329,"f":0.53},{"w":8333,"f":0.56},{"w":8337,"f":0.54},{"w":8341,"f":0.57},{"w":8345,"f":0.56},{"w":8349,"f":0.58},{"w":8353,"f":0.57},{"w":8357,"f":0.59},{"w":8361,"f":0.58},{"w":8365,"f":0.6},{"w":8369,"f":0.59},{"w":8373,"f":0.6},{"w":8377,"f":0.58},{"w":8381,"f":0.61},{"w":8385,"f":0.59},{"w":8389,"f":0.61},{"w":8393,"f":0.6},{"w":8397,"f":0.62},{"w":8401,"f":0.6},{"w":8405,"f":0.62},{"w":8409,"f":0.61},{"w":8413,"f":0.63},{"w":8417,"f":0.49},{"w":8420,"f":0.62},{"w":8424,"f":0.61},{"w":8428,"f":0.63},{"w":8432,"f":0.62},{"w":8436,"f":0.64},{"w":8440,"f":0.62},{"w":8444,"f":0.63},{"w":8448,"f":0.61},{"w":8452,"f":0.64},{"w":8456,"f":0.57},{"w":8459,"f":0.63},{"w":8463,"f":0.62},{"w":8467,"f":0.64},{"w":8471,"f":0.63},{"w":8475,"f":0.65},{"w":8479,"f":0.64},{"w":8483,"f":0.65},{"w":8487,"f":0.63},{"w":8491,"f":0.66},{"w":8495,"f":0.65},{"w":8499,"f":0.66},{"w":8503,"f":0.64},{"w":8507,"f":0.67},{"w":8511,"f":0.66},{"w":8515,"f":0.67},{"w":8519,"f":0.66},{"w":8523,"f":0.68},{"w":8527,"f":0.67},{"w":8531,"f":0.69},{"w":8535,"f":0.68},{"w":8539,"f":0.7},{"w":8543,"f":0.69},{"w":8547,"f":0.71},{"w":8551,"f":0.7},{"w":8555,"f":0.72},{"w":8559,"f":0.72},{"w":8563,"f":0.74},{"w":8567,"f":0.75},{"w":8571,"f":0.77},{"w":8575,"f":0.78},{"w":8579,"f":0.8},{"w":8583,"f":0.82},{"w":8587,"f":0.84},{"w":8591,"f":0.85},{"w":8595,"f":0.87},{"w":8599,"f":0.88},{"w":8603,"f":0.89},{"w":8607,"f":0.9},{"w":8611,"f":0.91},{"w":8614,"f":0.93},{"w":8617,"f":0.91},{"w":8620,"f":0.92},{"w":8623,"f":0.9},{"w":8627,"f":0.89},{"w":8631,"f":0.87},{"w":8635,"f":0.85},{"w":8639,"f":0.83},{"w":8643,"f":0.81},{"w":8647,"f":0.79},{"w":8651,"f":0.77},{"w":8655,"f":0.76},{"w":8659,"f":0.74},{"w":8663,"f":0.73},{"w":8667,"f":0.71},{"w":8671,"f":0.7},{"w":8675,"f":0.69},{"w":8679,"f":0.68},{"w":8683,"f":0.69},{"w":8687,"f":0.67},{"w":8691,"f":0.66},{"w":8695,"f":0.67},{"w":8699,"f":0.65},{"w":8703,"f":0.66},{"w":8707,"f":0.64},{"w":8711,"f":0.65},{"w":8715,"f":0.64},{"w":8719,"f":0.63},{"w":8723,"f":0.64},{"w":8727,"f":0.62},{"w":8731,"f":0.64},{"w":8735,"f":0.62},{"w":8739,"f":0.63},{"w":8743,"f":0.61},{"w":8747,"f":0.63},{"w":8751,"f":0.62},{"w":8755,"f":0.61},{"w":8759,"f":0.63},{"w":8763,"f":0.6},{"w":8767,"f":0.62},{"w":8771,"f":0.61},{"w":8775,"f":0.6},{"w":8779,"f":0.62},{"w":8783,"f":0.6},{"w":8787,"f":0.61},{"w":8791,"f":0.59},{"w":8795,"f":0.61},{"w":8799,"f":0.59},{"w":8803,"f":0.6},{"w":8807,"f":0.58},{"w":8811,"f":0.6},{"w":8815,"f":0.58},{"w":8819,"f":0.6},{"w":8823,"f":0.58},{"w":8826,"f":0.33},{"w":8829,"f":0.57},{"w":8833,"f":0.6},{"w":8837,"f":0.57},{"w":8841,"f":0.59},{"w":8845,"f":0.56},{"w":8849,"f":0.58},{"w":8853,"f":0.56},{"w":8857,"f":0.58},{"w":8861,"f":0.55},{"w":8865,"f":0.57},{"w":8869,"f":0.56},{"w":8873,"f":0.57},{"w":8877,"f":0.55},{"w":8881,"f":0.57},{"w":8885,"f":0.55},{"w":8889,"f":0.56},{"w":8893,"f":0.54},{"w":8897,"f":0.56},{"w":8901,"f":0.54},{"w":8905,"f":0.55},{"w":8909,"f":0.53},{"w":8913,"f":0.55},{"w":8917,"f":0.53},{"w":8921,"f":0.55},{"w":8925,"f":0.52},{"w":8929,"f":0.54},{"w":8933,"f":0.5},{"w":8937,"f":0.54},{"w":8941,"f":0.48},{"w":8945,"f":0.53},{"w":8949,"f":0.45},{"w":8953,"f":0.53},{"w":8957,"f":0.42},{"w":8960,"f":0.52},{"w":8964,"f":0.4},{"w":8968,"f":0.53},{"w":8972,"f":0.38},{"w":8975,"f":0.52},{"w":8979,"f":0.36},{"w":8982,"f":0.51},{"w":8986,"f":0.34},{"w":8989,"f":0.53},{"w":8993,"f":0.31},{"w":8996,"f":0.52},{"w":9000,"f":0.38},{"w":9004,"f":0.53},{"w":9008,"f":0.35},{"w":9012,"f":0.52},{"w":9016,"f":0.29},{"w":9019,"f":0.54},{"w":9023,"f":0.4},{"w":9027,"f":0.55},{"w":9031,"f":0.45},{"w":9035,"f":0.54},{"w":9039,"f":0.5},{"w":9043,"f":0.53},{"w":9047,"f":0.55},{"w":9051,"f":0.54}],
"c4": [{"w":7557,"f":0.665},{"w":7661,"f":0.655},{"w":7771,"f":0.633},{"w":7903,"f":0.612},{"w":8034,"f":0.59},{"w":8133,"f":0.576},{"w":8250,"f":0.573},{"w":8330,"f":0.585},{"w":8414,"f":0.608},{"w":8480,"f":0.63},{"w":8545,"f":0.672},{"w":8565,"f":0.725},{"w":8590,"f":0.84},{"w":8610,"f":0.905},{"w":8623,"f":0.894},{"w":8656,"f":0.756},{"w":8709,"f":0.65},{"w":8761,"f":0.62},{"w":8827,"f":0.576},{"w":8905,"f":0.545},{"w":8971,"f":0.53},{"w":9051,"f":0.523}],
"t4": [{"w":8303,"f":0.732,"t":"MgII"},{"w":8316,"f":0.057,"t":"Observed Wavelength (Å)"}]
},
"vconcat": [
{
 "width": 759, "height": 166.6,
 "layer": [
  {"data": {"name": "s1"}, "mark": {"type": "line", "color": "black", "strokeWidth": 1.1, "clip": true},
   "encoding": {
    "x": {"field": "w", "type": "quantitative", "scale": {"domain": [3053, 4547], "nice": false, "zero": false}, "axis": {"orient": "bottom", "values": [3200,3400,3600,3800,4000,4200,4400], "format": "d", "tickSize": -3.5, "labelPadding": 12.5, "title": null}},
    "y": {"field": "f", "type": "quantitative", "scale": {"domain": [-0.08, 3.08], "nice": false, "zero": false}, "axis": {"orient": "left", "values": [0,0.5,1,1.5,2,2.5,3], "format": ".1f", "tickSize": -15, "labelPadding": 19.7, "title": "Flux (10⁻¹⁶erg s⁻¹ cm⁻² Å⁻¹)", "titlePadding": 7}}}},
  {"data": {"name": "c1"}, "mark": {"type": "line", "color": "#ff0000", "strokeWidth": 2, "strokeDash": [8, 5], "clip": true},
   "encoding": {
    "x": {"field": "w", "type": "quantitative", "scale": {"domain": [3053, 4547], "nice": false, "zero": false}, "axis": {"orient": "bottom", "values": [3100,3150,3200,3250,3300,3350,3400,3450,3500,3550,3600,3650,3700,3750,3800,3850,3900,3950,4000,4050,4100,4150,4200,4250,4300,4350,4400,4450,4500], "tickSize": -1.8, "labels": false, "title": null}},
    "y": {"field": "f", "type": "quantitative", "scale": {"domain": [-0.08, 3.08], "nice": false, "zero": false}, "axis": {"orient": "left", "values": [0,0.1,0.2,0.3,0.4,0.5,0.6,0.7,0.8,0.9,1,1.1,1.2,1.3,1.4,1.5,1.6,1.7,1.8,1.9,2,2.1,2.2,2.3,2.4,2.5,2.6,2.7,2.8,2.9,3], "tickSize": -7.5, "labels": false, "title": null}}}},
  {"data": {"name": "t1"}, "mark": {"type": "text", "font": "Liberation Sans", "fontSize": 11.5, "fontWeight": "bold", "fontStyle": "italic", "color": "black", "align": "center", "baseline": "middle"},
   "encoding": {
    "x": {"field": "w", "type": "quantitative", "scale": {"domain": [3053, 4547], "nice": false, "zero": false}, "axis": null},
    "y": {"field": "f", "type": "quantitative", "scale": {"domain": [-0.08, 3.08], "nice": false, "zero": false}, "axis": {"orient": "right", "values": [0,0.5,1,1.5,2,2.5,3], "tickSize": -15, "labels": false, "title": null}},
    "text": {"field": "t"}}},
  {"data": {"values": [{}]}, "mark": {"type": "point", "opacity": 0},
   "encoding": {
    "x": {"datum": 1200, "type": "quantitative", "scale": {"domain": [992.2, 1477.7], "nice": false, "zero": false}, "axis": {"orient": "top", "values": [1000,1100,1200,1300,1400], "format": "d", "tickSize": -3.5, "labelPadding": 7, "title": null}},
    "y": {"datum": 1, "type": "quantitative", "axis": {"orient": "right", "values": [0,0.1,0.2,0.3,0.4,0.5,0.6,0.7,0.8,0.9,1,1.1,1.2,1.3,1.4,1.5,1.6,1.7,1.8,1.9,2,2.1,2.2,2.3,2.4,2.5,2.6,2.7,2.8,2.9,3], "tickSize": -7.5, "labels": false, "title": null}}}},
  {"data": {"values": [{}]}, "mark": {"type": "point", "opacity": 0},
   "encoding": {
    "x": {"datum": 1200, "type": "quantitative", "scale": {"domain": [992.2, 1477.7], "nice": false, "zero": false}, "axis": {"orient": "top", "values": [1000,1010,1020,1030,1040,1050,1060,1070,1080,1090,1100,1110,1120,1130,1140,1150,1160,1170,1180,1190,1200,1210,1220,1230,1240,1250,1260,1270,1280,1290,1300,1310,1320,1330,1340,1350,1360,1370,1380,1390,1400,1410,1420,1430,1440,1450,1460,1470], "tickSize": -1.8, "labels": false, "title": null}},
    "y": {"datum": 1, "type": "quantitative", "axis": null}}}
 ],
 "resolve": {"scale": {"x": "independent"}, "axis": {"x": "independent", "y": "independent"}}
},
{
 "width": 759, "height": 166.6,
 "layer": [
  {"data": {"name": "s2"}, "mark": {"type": "line", "color": "black", "strokeWidth": 1.1, "clip": true},
   "encoding": {
    "x": {"field": "w", "type": "quantitative", "scale": {"domain": [4555, 6049], "nice": false, "zero": false}, "axis": {"orient": "bottom", "values": [4600,4800,5000,5200,5400,5600,5800,6000], "format": "d", "tickSize": -3.5, "labelPadding": 12.5, "title": null}},
    "y": {"field": "f", "type": "quantitative", "scale": {"domain": [0, 2.365], "nice": false, "zero": false}, "axis": {"orient": "left", "values": [0,0.5,1,1.5,2], "format": ".1f", "tickSize": -15, "labelPadding": 19.7, "title": "Flux (10⁻¹⁶erg s⁻¹ cm⁻² Å⁻¹)", "titlePadding": 7}}}},
  {"data": {"name": "c2"}, "mark": {"type": "line", "color": "#ff0000", "strokeWidth": 2, "strokeDash": [8, 5], "clip": true},
   "encoding": {
    "x": {"field": "w", "type": "quantitative", "scale": {"domain": [4555, 6049], "nice": false, "zero": false}, "axis": {"orient": "bottom", "values": [4600,4650,4700,4750,4800,4850,4900,4950,5000,5050,5100,5150,5200,5250,5300,5350,5400,5450,5500,5550,5600,5650,5700,5750,5800,5850,5900,5950,6000], "tickSize": -1.8, "labels": false, "title": null}},
    "y": {"field": "f", "type": "quantitative", "scale": {"domain": [0, 2.365], "nice": false, "zero": false}, "axis": {"orient": "left", "values": [0,0.1,0.2,0.3,0.4,0.5,0.6,0.7,0.8,0.9,1,1.1,1.2,1.3,1.4,1.5,1.6,1.7,1.8,1.9,2,2.1,2.2,2.3], "tickSize": -7.5, "labels": false, "title": null}}}},
  {"data": {"name": "t2"}, "mark": {"type": "text", "font": "Liberation Sans", "fontSize": 11.5, "fontWeight": "bold", "fontStyle": "italic", "color": "black", "align": "center", "baseline": "middle"},
   "encoding": {
    "x": {"field": "w", "type": "quantitative", "scale": {"domain": [4555, 6049], "nice": false, "zero": false}, "axis": null},
    "y": {"field": "f", "type": "quantitative", "scale": {"domain": [0, 2.365], "nice": false, "zero": false}, "axis": {"orient": "right", "values": [0,0.5,1,1.5,2], "tickSize": -15, "labels": false, "title": null}},
    "text": {"field": "t"}}},
  {"data": {"values": [{}]}, "mark": {"type": "point", "opacity": 0},
   "encoding": {
    "x": {"datum": 1700, "type": "quantitative", "scale": {"domain": [1480.3, 1965.9], "nice": false, "zero": false}, "axis": {"orient": "top", "values": [1500,1600,1700,1800,1900], "format": "d", "tickSize": -3.5, "labelPadding": 7, "title": null}},
    "y": {"datum": 1, "type": "quantitative", "axis": {"orient": "right", "values": [0,0.1,0.2,0.3,0.4,0.5,0.6,0.7,0.8,0.9,1,1.1,1.2,1.3,1.4,1.5,1.6,1.7,1.8,1.9,2,2.1,2.2,2.3], "tickSize": -7.5, "labels": false, "title": null}}}},
  {"data": {"values": [{}]}, "mark": {"type": "point", "opacity": 0},
   "encoding": {
    "x": {"datum": 1700, "type": "quantitative", "scale": {"domain": [1480.3, 1965.9], "nice": false, "zero": false}, "axis": {"orient": "top", "values": [1490,1500,1510,1520,1530,1540,1550,1560,1570,1580,1590,1600,1610,1620,1630,1640,1650,1660,1670,1680,1690,1700,1710,1720,1730,1740,1750,1760,1770,1780,1790,1800,1810,1820,1830,1840,1850,1860,1870,1880,1890,1900,1910,1920,1930,1940,1950,1960], "tickSize": -1.8, "labels": false, "title": null}},
    "y": {"datum": 1, "type": "quantitative", "axis": null}}}
 ],
 "resolve": {"scale": {"x": "independent"}, "axis": {"x": "independent", "y": "independent"}}
},
{
 "width": 759, "height": 166.6,
 "layer": [
  {"data": {"name": "s3"}, "mark": {"type": "line", "color": "black", "strokeWidth": 1.1, "clip": true},
   "encoding": {
    "x": {"field": "w", "type": "quantitative", "scale": {"domain": [6052, 7546], "nice": false, "zero": false}, "axis": {"orient": "bottom", "values": [6200,6400,6600,6800,7000,7200,7400], "format": "d", "tickSize": -3.5, "labelPadding": 12.5, "title": null}},
    "y": {"field": "f", "type": "quantitative", "scale": {"domain": [-0.021, 0.974], "nice": false, "zero": false}, "axis": {"orient": "left", "values": [0,0.2,0.4,0.6,0.8], "format": ".1f", "tickSize": -15, "labelPadding": 19.7, "title": "Flux (10⁻¹⁶erg s⁻¹ cm⁻² Å⁻¹)", "titlePadding": 7}}}},
  {"data": {"name": "c3"}, "mark": {"type": "line", "color": "#ff0000", "strokeWidth": 2, "strokeDash": [8, 5], "clip": true},
   "encoding": {
    "x": {"field": "w", "type": "quantitative", "scale": {"domain": [6052, 7546], "nice": false, "zero": false}, "axis": {"orient": "bottom", "values": [6100,6150,6200,6250,6300,6350,6400,6450,6500,6550,6600,6650,6700,6750,6800,6850,6900,6950,7000,7050,7100,7150,7200,7250,7300,7350,7400,7450,7500], "tickSize": -1.8, "labels": false, "title": null}},
    "y": {"field": "f", "type": "quantitative", "scale": {"domain": [-0.021, 0.974], "nice": false, "zero": false}, "axis": {"orient": "left", "values": [0,0.05,0.1,0.15,0.2,0.25,0.3,0.35,0.4,0.45,0.5,0.55,0.6,0.65,0.7,0.75,0.8,0.85,0.9,0.95], "tickSize": -7.5, "labels": false, "title": null}}}},
  {"data": {"values": [{}]}, "mark": {"type": "point", "opacity": 0},
   "encoding": {
    "x": {"datum": 6500, "type": "quantitative", "scale": {"domain": [6052, 7546], "nice": false, "zero": false}, "axis": null},
    "y": {"datum": 0.5, "type": "quantitative", "scale": {"domain": [-0.021, 0.974], "nice": false, "zero": false}, "axis": {"orient": "right", "values": [0,0.2,0.4,0.6,0.8], "tickSize": -15, "labels": false, "title": null}}}},
  {"data": {"values": [{}]}, "mark": {"type": "point", "opacity": 0},
   "encoding": {
    "x": {"datum": 2200, "type": "quantitative", "scale": {"domain": [1966.8, 2452.4], "nice": false, "zero": false}, "axis": {"orient": "top", "values": [2000,2100,2200,2300,2400], "format": "d", "tickSize": -3.5, "labelPadding": 7, "title": null}},
    "y": {"datum": 0.5, "type": "quantitative", "axis": {"orient": "right", "values": [0,0.05,0.1,0.15,0.2,0.25,0.3,0.35,0.4,0.45,0.5,0.55,0.6,0.65,0.7,0.75,0.8,0.85,0.9,0.95], "tickSize": -7.5, "labels": false, "title": null}}}},
  {"data": {"values": [{}]}, "mark": {"type": "point", "opacity": 0},
   "encoding": {
    "x": {"datum": 2200, "type": "quantitative", "scale": {"domain": [1966.8, 2452.4], "nice": false, "zero": false}, "axis": {"orient": "top", "values": [1970,1980,1990,2000,2010,2020,2030,2040,2050,2060,2070,2080,2090,2100,2110,2120,2130,2140,2150,2160,2170,2180,2190,2200,2210,2220,2230,2240,2250,2260,2270,2280,2290,2300,2310,2320,2330,2340,2350,2360,2370,2380,2390,2400,2410,2420,2430,2440,2450], "tickSize": -1.8, "labels": false, "title": null}},
    "y": {"datum": 0.5, "type": "quantitative", "axis": null}}}
 ],
 "resolve": {"scale": {"x": "independent"}, "axis": {"x": "independent", "y": "independent"}}
},
{
 "width": 759, "height": 166.6,
 "layer": [
  {"data": {"name": "s4"}, "mark": {"type": "line", "color": "black", "strokeWidth": 1.1, "clip": true},
   "encoding": {
    "x": {"field": "w", "type": "quantitative", "scale": {"domain": [7557, 9051], "nice": false, "zero": false}, "axis": {"orient": "bottom", "values": [7600,7800,8000,8200,8400,8600,8800,9000], "format": "d", "tickSize": -3.5, "labelPadding": 12.5, "title": null}},
    "y": {"field": "f", "type": "quantitative", "scale": {"domain": [-0.0235, 1.035], "nice": false, "zero": false}, "axis": {"orient": "left", "values": [0,0.2,0.4,0.6,0.8,1], "format": ".1f", "tickSize": -15, "labelPadding": 19.7, "title": "Flux (10⁻¹⁶erg s⁻¹ cm⁻² Å⁻¹)", "titlePadding": 7}}}},
  {"data": {"name": "c4"}, "mark": {"type": "line", "color": "#ff0000", "strokeWidth": 2, "strokeDash": [8, 5], "clip": true},
   "encoding": {
    "x": {"field": "w", "type": "quantitative", "scale": {"domain": [7557, 9051], "nice": false, "zero": false}, "axis": {"orient": "bottom", "values": [7600,7650,7700,7750,7800,7850,7900,7950,8000,8050,8100,8150,8200,8250,8300,8350,8400,8450,8500,8550,8600,8650,8700,8750,8800,8850,8900,8950,9000,9050], "tickSize": -1.8, "labels": false, "title": null}},
    "y": {"field": "f", "type": "quantitative", "scale": {"domain": [-0.0235, 1.035], "nice": false, "zero": false}, "axis": {"orient": "left", "values": [0,0.05,0.1,0.15,0.2,0.25,0.3,0.35,0.4,0.45,0.5,0.55,0.6,0.65,0.7,0.75,0.8,0.85,0.9,0.95,1], "tickSize": -7.5, "labels": false, "title": null}}}},
  {"data": {"name": "t4"}, "mark": {"type": "text", "font": "Liberation Sans", "fontSize": 11.5, "fontWeight": "bold", "fontStyle": "italic", "color": "black", "align": "center", "baseline": "middle"},
   "encoding": {
    "x": {"field": "w", "type": "quantitative", "scale": {"domain": [7557, 9051], "nice": false, "zero": false}, "axis": null},
    "y": {"field": "f", "type": "quantitative", "scale": {"domain": [-0.0235, 1.035], "nice": false, "zero": false}, "axis": {"orient": "right", "values": [0,0.2,0.4,0.6,0.8,1], "tickSize": -15, "labels": false, "title": null}},
    "text": {"field": "t"}}},
  {"data": {"values": [{}]}, "mark": {"type": "point", "opacity": 0},
   "encoding": {
    "x": {"datum": 2700, "type": "quantitative", "scale": {"domain": [2456.0, 2941.5], "nice": false, "zero": false}, "axis": {"orient": "top", "values": [2500,2600,2700,2800,2900], "format": "d", "tickSize": -3.5, "labelPadding": 7, "title": null}},
    "y": {"datum": 0.5, "type": "quantitative", "axis": {"orient": "right", "values": [0,0.05,0.1,0.15,0.2,0.25,0.3,0.35,0.4,0.45,0.5,0.55,0.6,0.65,0.7,0.75,0.8,0.85,0.9,0.95,1], "tickSize": -7.5, "labels": false, "title": null}}}},
  {"data": {"values": [{}]}, "mark": {"type": "point", "opacity": 0},
   "encoding": {
    "x": {"datum": 2700, "type": "quantitative", "scale": {"domain": [2456.0, 2941.5], "nice": false, "zero": false}, "axis": {"orient": "top", "values": [2460,2470,2480,2490,2500,2510,2520,2530,2540,2550,2560,2570,2580,2590,2600,2610,2620,2630,2640,2650,2660,2670,2680,2690,2700,2710,2720,2730,2740,2750,2760,2770,2780,2790,2800,2810,2820,2830,2840,2850,2860,2870,2880,2890,2900,2910,2920,2930,2940], "tickSize": -1.8, "labels": false, "title": null}},
    "y": {"datum": 0.5, "type": "quantitative", "axis": null}}}
 ],
 "resolve": {"scale": {"x": "independent"}, "axis": {"x": "independent", "y": "independent"}}
}
]
}
